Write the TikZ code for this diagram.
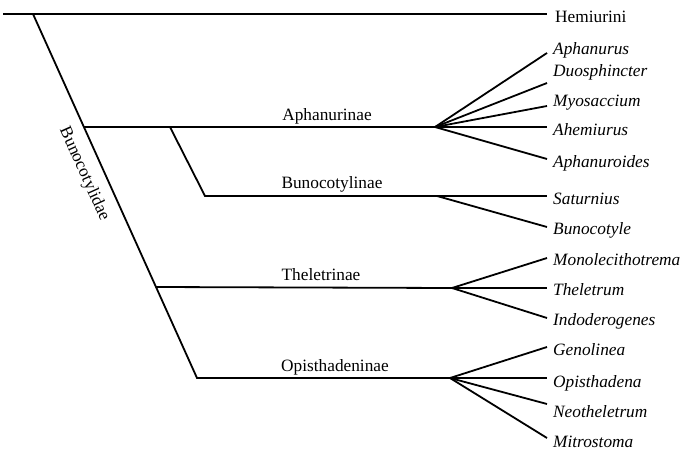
\documentclass[tikz,border=0pt]{standalone}
\usepackage{fontspec}
\setmainfont{Liberation Serif}
\begin{document}
\begin{tikzpicture}[x=1pt,y=-1pt,
  br/.style={line width=1.8pt,line join=miter},
  lab/.style={font=\fontsize{17.3}{20}\selectfont,inner sep=0pt},
  taxon/.style={lab,anchor=base west,font=\fontsize{17.3}{20}\selectfont\itshape},
  sub/.style={lab,anchor=base}]
\useasboundingbox (0,0) rectangle (683,455);
% backbone
\coordinate (r0) at (3,14);
\coordinate (r1) at (33,14);
\coordinate (hemE) at (547,14);
\coordinate (dA) at (83.9,127);
\coordinate (dB) at (170,127);
\coordinate (dBb) at (205,196);
\coordinate (dT) at (156,287);
\coordinate (dO) at (197,378);
\coordinate (A) at (435,127);
\coordinate (B) at (437,196);
\coordinate (T) at (452,288);
\coordinate (O) at (450,378);
\draw[br] (r0) -- (hemE);
\draw[br] (r1) -- (dO) -- (O);
\draw[br] (dA) -- (A);
\draw[br] (dB) -- (dBb) -- (B);
\draw[br] (dT) -- (T);
% end points
\foreach \n/\y in {e1/53,e2/83,e3/106,e4/127,e5/159,e6/196,e7/227,e8/258,e9/288,e10/318,e11/347,e12/378,e13/404,e14/438}
  \coordinate (\n) at (547,\y);
\foreach \n in {e1,e2,e3,e4,e5} \draw[br] (A) -- (\n);
\foreach \n in {e6,e7} \draw[br] (B) -- (\n);
\foreach \n in {e8,e9,e10} \draw[br] (T) -- (\n);
\foreach \n in {e11,e12,e13,e14} \draw[br] (O) -- (\n);
% labels
\node[lab,anchor=base west] (hem) at (555,22) {Hemiurini};
\node[taxon] (t1) at (553,54) {Aphanurus};
\node[taxon] (t2) at (553,76) {Duosphincter};
\node[taxon] (t3) at (553,106) {Myosaccium};
\node[taxon] (t4) at (553,135) {Ahemiurus};
\node[taxon] (t5) at (553,167) {Aphanuroides};
\node[taxon] (t6) at (553,204) {Saturnius};
\node[taxon] (t7) at (553,234) {Bunocotyle};
\node[taxon] (t8) at (553,265) {Monolecithotrema};
\node[taxon] (t9) at (553,295) {Theletrum};
\node[taxon] (t10) at (553,325) {Indoderogenes};
\node[taxon] (t11) at (553,355) {Genolinea};
\node[taxon] (t12) at (553,387) {Opisthadena};
\node[taxon] (t13) at (553,417) {Neotheletrum};
\node[taxon] (t14) at (553,447) {Mitrostoma};
\node[sub] (sA) at (327,120) {Aphanurinae};
\node[sub] (sB) at (332,188) {Bunocotylinae};
\node[sub] (sT) at (321,280) {Theletrinae};
\node[sub] (sO) at (335,371) {Opisthadeninae};
\node[lab,rotate=-65.75] (fam) at (84,174) {Bunocotylidae};
\end{tikzpicture}
\end{document}
